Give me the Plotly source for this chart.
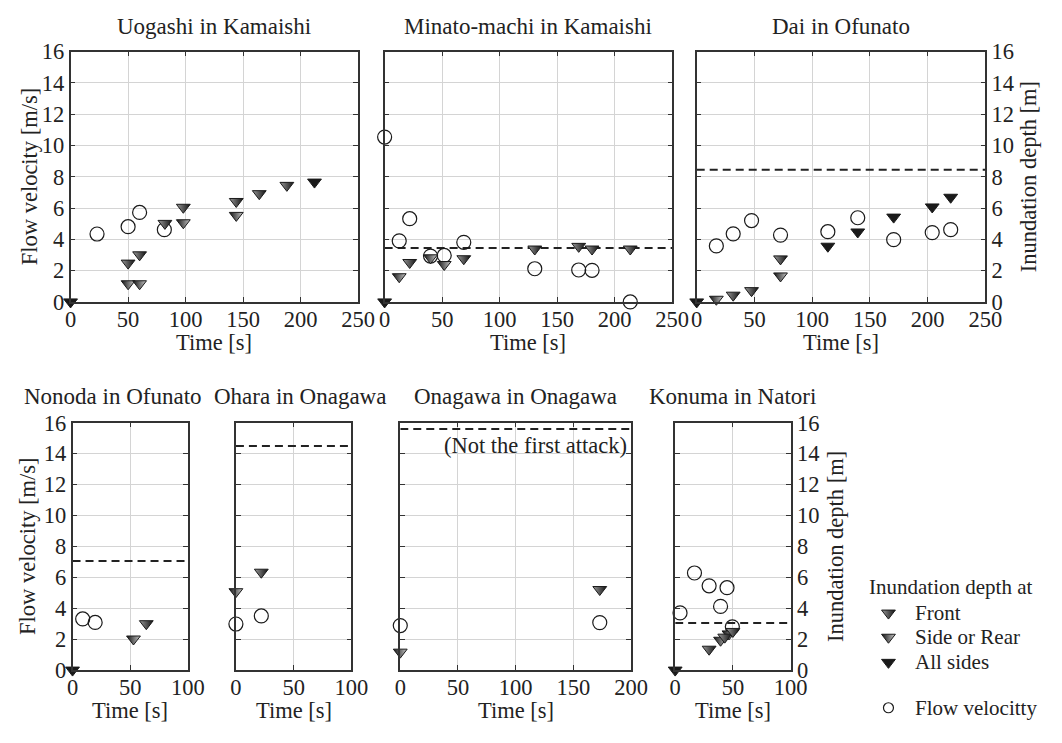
import plotly.graph_objects as go

W, H = 1062, 743
FONT = "'Liberation Serif', Tinos, 'Times New Roman', Times, 'DejaVu Serif', serif"
TXT = "#222222"

# ---------------- data ----------------
panel_titles = ["Uogashi in Kamaishi", "Minato-machi in Kamaishi", "Dai in Ofunato",
                "Nonoda in Ofunato", "Ohara in Onagawa", "Onagawa in Onagawa", "Konuma in Natori"]
x_max = [250, 250, 250, 100, 100, 200, 100]

vel_t = [
    [23, 50, 60, 81.5],
    [0, 12.7, 21.8, 39.9, 51.8, 68.8, 130.5, 168.7, 180.3, 213.5],
    [17, 31.6, 47.5, 72.6, 113.6, 139.5, 170.6, 204, 220],
    [8.8, 19.6],
    [0, 22],
    [0, 172.8],
    [4.2, 16.7, 29.4, 39.3, 44.9, 49.5],
]
vel_v = [
    [4.34, 4.81, 5.72, 4.62],
    [10.54, 3.9, 5.32, 2.93, 2.97, 3.81, 2.12, 2.04, 2.02, 0],
    [3.58, 4.35, 5.2, 4.27, 4.49, 5.38, 3.98, 4.43, 4.62],
    [3.31, 3.08],
    [2.98, 3.5],
    [2.88, 3.07],
    [3.7, 6.28, 5.45, 4.12, 5.33, 2.8],
]

front_t = [
    [50, 60, 82, 98, 144, 164, 188],
    [21.8, 68.8, 130.5, 168.7, 180.3, 213.5],
    [31.6, 47.5, 72.6],
    [63.9],
    [22],
    [172.8],
    [29.4, 42.9, 50],
]
front_d = [
    [2.48, 3.01, 5.02, 6.05, 6.42, 6.92, 7.45],
    [2.52, 2.76, 3.38, 3.55, 3.38, 3.38],
    [0.43, 0.72, 2.75],
    [3.0],
    [6.33],
    [5.21],
    [1.35, 2.13, 2.5],
]

side_t = [
    [50, 60, 98, 144],
    [12.7, 39.9, 51.8],
    [17, 72.6],
    [52.8],
    [0],
    [0],
    [39.3, 46.6],
]
side_d = [
    [1.16, 1.16, 5.06, 5.53],
    [1.61, 2.82, 2.39],
    [0.17, 1.66],
    [2.01],
    [5.07],
    [1.16],
    [1.93, 2.34],
]

all_t = [[0, 212], [0], [0, 113.6, 139.5, 170.6, 204, 220], [0], [], [], [0]]
all_d = [[0, 7.66], [0], [0, 3.56, 4.47, 5.42, 6.07, 6.69], [0], [], [], [0]]

# maximum inundation depth (dashed line); None = not shown
max_depth = [None, 3.45, 8.45, 7.05, 14.5, 15.6, 3.05]

y_ticks = [0, 2, 4, 6, 8, 10, 12, 14, 16]

legend_labels = ["Front", "Side or Rear", "All sides", "Flow velocitty"]

# ---------------- layout geometry (pixels) ----------------
boxes = [  # left, right, top, bottom
    (66, 360, 41, 300),
    (387, 681, 41, 300),
    (706, 1001, 41, 300),
    (68, 186, 425, 681),
    (235, 353, 425, 681),
    (403, 639, 425, 681),
    (684, 802, 425, 681),
]

def px(x):
    return x / W

def py(y):
    return 1 - y / H

fig = go.Figure()
layout = dict(
    width=W, height=H, margin=dict(l=0, r=0, t=0, b=0),
    paper_bgcolor="white", plot_bgcolor="white", showlegend=False,
    font=dict(family=FONT, size=22, color=TXT),
)
annotations = []

tri_line = dict(color="#1a1a1a", width=1)
front_marker = dict(symbol="triangle-down", size=12, color="#9a9a9a",
                    gradient=dict(type="horizontal", color="#111111"), line=tri_line)
side_marker = dict(symbol="triangle-down", size=12, color="#111111",
                   gradient=dict(type="horizontal", color="#c8c8c8"), line=tri_line)
all_marker = dict(symbol="triangle-down", size=12, color="#1a1a1a", line=tri_line)
circ_marker = dict(symbol="circle-open", size=14, color="#1a1a1a", line=dict(width=1.2))

std_axis = dict(
    showgrid=True, gridcolor="#d4d4d4", gridwidth=1, zeroline=False,
    showline=True, linecolor="#333333", linewidth=1.5, mirror="ticks",
    ticks="inside", ticklen=5, tickcolor="#333333",
    tickfont=dict(family=FONT, size=22.5, color=TXT), fixedrange=True,
)

for i in range(7):
    n = "" if i == 0 else str(i + 1)
    xa, ya = "x" + n, "y" + n
    l, r, t, b = boxes[i]
    left_labels = i in (0, 3)
    right_labels = i in (2, 6)
    layout["xaxis" + n] = dict(std_axis, domain=[px(l), px(r)], anchor=ya,
                               range=[0, x_max[i]], dtick=50)
    layout["yaxis" + n] = dict(std_axis, domain=[py(b), py(t)], anchor=xa,
                               range=[0, 16], tickvals=y_ticks,
                               side="right" if right_labels else "left",
                               showticklabels=left_labels or right_labels)
    if max_depth[i] is not None:
        fig.add_trace(go.Scatter(
            x=[0, x_max[i]], y=[max_depth[i], max_depth[i]], mode="lines",
            line=dict(color="#222222", width=2, dash="8px,5px"),
            xaxis=xa, yaxis=ya, hoverinfo="skip"))
    fig.add_trace(go.Scatter(x=vel_t[i], y=vel_v[i], mode="markers", marker=circ_marker,
                             cliponaxis=False, xaxis=xa, yaxis=ya))
    fig.add_trace(go.Scatter(x=side_t[i], y=side_d[i], mode="markers", marker=side_marker,
                             cliponaxis=False, xaxis=xa, yaxis=ya))
    fig.add_trace(go.Scatter(x=front_t[i], y=front_d[i], mode="markers", marker=front_marker,
                             cliponaxis=False, xaxis=xa, yaxis=ya))
    fig.add_trace(go.Scatter(x=all_t[i], y=all_d[i], mode="markers", marker=all_marker,
                             cliponaxis=False, xaxis=xa, yaxis=ya))

    # panel title
    title_x = {3: 109, 4: 300}.get(i, (l + r) / 2)
    title_y = 15 if i < 3 else 398
    annotations.append(dict(text=panel_titles[i], x=px(title_x), y=py(title_y),
                            xref="paper", yref="paper", showarrow=False,
                            xanchor="center", yanchor="middle",
                            font=dict(family=FONT, size=23, color=TXT)))
    # x-axis title
    annotations.append(dict(text="Time [s]", x=px((l + r) / 2), y=py(b + 42),
                            xref="paper", yref="paper", showarrow=False,
                            xanchor="center", yanchor="middle",
                            font=dict(family=FONT, size=22.5, color=TXT)))
    if left_labels:
        annotations.append(dict(text="Flow velocity [m/s]", x=px(l - 42 if i == 0 else l - 46),
                                y=py((t + b) / 2), xref="paper", yref="paper", showarrow=False,
                                textangle=-90, xanchor="center", yanchor="middle",
                                font=dict(family=FONT, size=22.5, color=TXT)))
    if right_labels:
        annotations.append(dict(text="Inundation depth [m]", x=px(r + 44 if i == 2 else r + 46),
                                y=py((t + b) / 2), xref="paper", yref="paper", showarrow=False,
                                textangle=-90, xanchor="center", yanchor="middle",
                                font=dict(family=FONT, size=22.5, color=TXT)))

# note in Onagawa panel
annotations.append(dict(text="(Not the first attack)", x=px(637), y=py(449),
                        xref="paper", yref="paper", showarrow=False,
                        xanchor="right", yanchor="middle",
                        font=dict(family=FONT, size=22.5, color=TXT)))

# ---------------- custom legend ----------------
layout["xaxis8"] = dict(domain=[px(880), px(1062)], range=[0, 182], visible=False,
                        anchor="y8", fixedrange=True)
layout["yaxis8"] = dict(domain=[py(743), py(580)], range=[163, 0], visible=False,
                        anchor="x8", fixedrange=True)
leg_x = 22
leg_rows = [42, 67, 93, 140]
leg_markers = [front_marker, side_marker, all_marker,
               dict(symbol="circle-open", size=10, color="#1a1a1a", line=dict(width=1.2))]
for k in range(4):
    fig.add_trace(go.Scatter(x=[leg_x], y=[leg_rows[k]], mode="markers",
                             marker=leg_markers[k], xaxis="x8", yaxis="y8",
                             cliponaxis=False, hoverinfo="skip"))
    annotations.append(dict(text=legend_labels[k], x=47, y=leg_rows[k], xref="x8", yref="y8",
                            showarrow=False, xanchor="left", yanchor="middle",
                            font=dict(family=FONT, size=21, color=TXT)))
annotations.append(dict(text="Inundation depth at", x=0, y=15, xref="x8", yref="y8",
                        showarrow=False, xanchor="left", yanchor="middle",
                        font=dict(family=FONT, size=21, color=TXT)))

layout["annotations"] = annotations
fig.update_layout(**layout)

# pull x tick labels a little closer to the axes, as in the reference
try:
    for i in range(7):
        n = "" if i == 0 else str(i + 1)
        fig.layout["xaxis" + n].ticklabelstandoff = -4
except Exception:
    pass

fig.write_html("out.html")
